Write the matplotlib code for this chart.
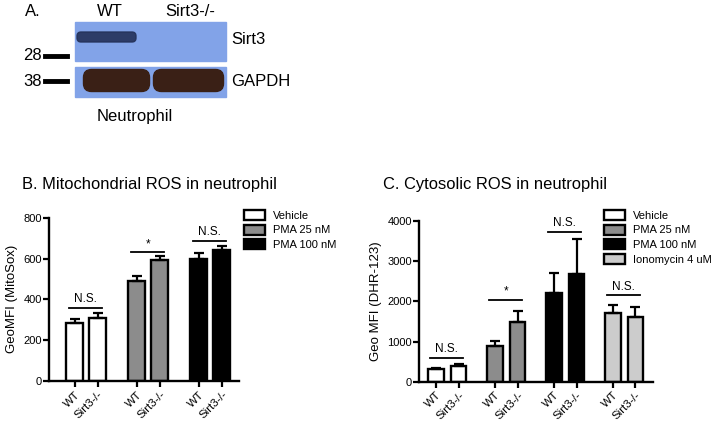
import numpy as np
import matplotlib
matplotlib.use("Agg")
import matplotlib.pyplot as plt
from matplotlib.patches import Rectangle, FancyBboxPatch

plt.rcParams["font.family"] = ["Liberation Sans", "DejaVu Sans"]

# ---- data ----
genotypes = ["WT", "Sirt3-/-"]

b_treatments = ["Vehicle", "PMA 25 nM", "PMA 100 nM"]
b_means = [[283, 308], [491, 594], [600, 643]]
b_errs = [[20, 24], [24, 18], [27, 16]]
b_sig = ["N.S.", "*", "N.S."]
b_sig_y = [359, 630, 687]

c_treatments = ["Vehicle", "PMA 25 nM", "PMA 100 nM", "Ionomycin 4 uM"]
c_means = [[320, 400], [890, 1480], [2200, 2680], [1720, 1610]]
c_errs = [[25, 40], [130, 290], [500, 870], [190, 240]]
c_sig = ["N.S.", "*", "N.S.", "N.S."]
c_sig_y = [598, 2033, 3734, 2158]

colors = ["white", "#8c8c8c", "black", "#cccccc"]

W, H = 712, 422
fig = plt.figure(figsize=(W / 100, H / 100), dpi=100)


def px_axes(left, top, right, bottom):
    return fig.add_axes([left / W, 1 - bottom / H, (right - left) / W, (bottom - top) / H])


def bar_panel(ax, treatments, means, errs, sig, sig_y, gap, width, ymax, ystep):
    centers = []
    for g, (m, e) in enumerate(zip(means, errs)):
        x = np.array([0, 1]) + g * gap
        centers.extend(x)
        ax.bar(x, m, width=width, color=colors[g], edgecolor="black",
               linewidth=1.7, label=treatments[g], zorder=2)
        ax.errorbar(x, m, yerr=[[0, 0], e], fmt="none", ecolor="black",
                    elinewidth=1.6, capsize=3.8, capthick=1.6, zorder=3)
        ax.plot([x[0] - 0.25, x[1] + 0.2], [sig_y[g]] * 2, color="black", lw=1.3)
        ax.text(x.mean() - 0.02, sig_y[g] + ymax * 0.015, sig[g], ha="center",
                va="bottom", fontsize=8.5)
    ax.set_ylim(0, ymax)
    ax.set_yticks(np.arange(0, ymax + 1, ystep))
    ax.set_xticks(centers)
    ax.set_xticklabels(genotypes * len(means), rotation=45, ha="right",
                       rotation_mode="anchor", fontsize=8.2)
    for s in ["top", "right"]:
        ax.spines[s].set_visible(False)
    for s in ["left", "bottom"]:
        ax.spines[s].set_linewidth(1.7)
    ax.tick_params(width=1.6, length=4, labelsize=8)
    ax.tick_params(axis="x", pad=2, labelsize=8.2)
    ax.tick_params(axis="y", pad=1)


def legend_at(ax, x, y):
    ax.legend(loc="upper left", bbox_to_anchor=(x / W, 1 - y / H),
              bbox_transform=fig.transFigure, frameon=False, fontsize=8,
              handlelength=1.9, handleheight=1.0, labelspacing=0.35,
              handletextpad=0.7, borderaxespad=0, borderpad=0)


# ---- panel B ----
axb = px_axes(49, 217.7, 239, 381)
bar_panel(axb, b_treatments, b_means, b_errs, b_sig, b_sig_y, 2.7, 0.74, 800, 200)
axb.set_xlim(-1.11, 7.15)
axb.set_ylabel("GeoMFI (MitoSox)", fontsize=9.5, labelpad=4)
fig.text(22 / W, 1 - 185 / H, "B. Mitochondrial ROS in neutrophil", fontsize=11.9,
         va="center")
legend_at(axb, 244, 210)

# ---- panel C ----
axc = px_axes(419, 221, 653, 381.7)
bar_panel(axc, c_treatments, c_means, c_errs, c_sig, c_sig_y, 2.62, 0.69, 4000, 1000)
axc.set_xlim(-0.76, 9.64)
axc.set_ylabel("Geo MFI (DHR-123)", fontsize=9.5, labelpad=4)
fig.text(383 / W, 1 - 185 / H, "C. Cytosolic ROS in neutrophil", fontsize=11.9,
         va="center")
legend_at(axc, 604, 210)

# ---- panel A: western blot sketch ----
axa = fig.add_axes([0, 0, 1, 1], zorder=-1)
axa.set_xlim(0, W)
axa.set_ylim(H, 0)
axa.axis("off")

blot_blue = "#82a3e8"
axa.add_patch(Rectangle((75, 22), 151, 39, color=blot_blue))
axa.add_patch(Rectangle((75, 67), 151, 30, color=blot_blue))
axa.add_patch(FancyBboxPatch((79, 34), 55, 6, boxstyle="round,pad=2,rounding_size=4",
                             color="#243159", alpha=0.9))
for x0, x1 in [(83, 150), (153, 224)]:
    axa.add_patch(FancyBboxPatch((x0 + 3, 72), x1 - x0 - 6, 17,
                                 boxstyle="round,pad=2.5,rounding_size=8",
                                 color="#3a2016"))

fs_a = 12
axa.text(25, 12, "A.", fontsize=fs_a, va="center")
axa.text(110, 12, "WT", fontsize=fs_a, va="center", ha="center")
axa.text(190, 12, "Sirt3-/-", fontsize=fs_a, va="center", ha="center")
axa.text(231, 40, "Sirt3", fontsize=fs_a, va="center")
axa.text(231, 81, "GAPDH", fontsize=fs_a, va="center")
axa.text(42, 55, "28", fontsize=fs_a, va="center", ha="right")
axa.text(42, 81, "38", fontsize=fs_a, va="center", ha="right")
axa.plot([45, 67], [56, 56], color="black", lw=3.5)
axa.plot([45, 67], [81, 81], color="black", lw=3.5)
axa.text(135, 117, "Neutrophil", fontsize=fs_a, va="center", ha="center")

fig.savefig("out.png", dpi=100)
